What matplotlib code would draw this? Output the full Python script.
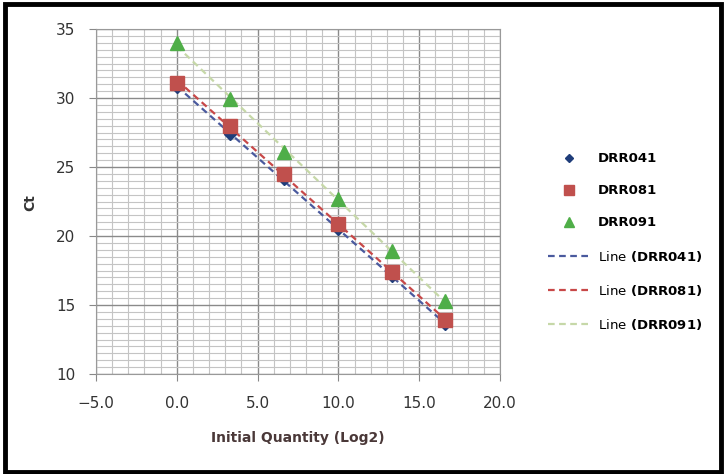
import matplotlib
matplotlib.use("Agg")
import matplotlib.pyplot as plt
import numpy as np
from matplotlib.patches import Rectangle
from matplotlib.ticker import MultipleLocator, FuncFormatter

# Data
x_vals = [0.0, 3.32, 6.64, 9.97, 13.29, 16.61]
drr041 = [30.8, 27.4, 24.1, 20.5, 17.1, 13.6]
drr081 = [31.1, 28.0, 24.5, 20.9, 17.4, 13.9]
drr091 = [34.0, 29.9, 26.1, 22.7, 18.9, 15.3]
series_names = ["DRR041", "DRR081", "DRR091"]

marker_colors = ["#1f3d7a", "#c0504d", "#4fae48"]
line_colors = ["#4a5a9e", "#c84848", "#c6d8a8"]
markers = ["D", "s", "^"]
msizes = [6, 10, 9.5]

plt.rcParams['font.family'] = ['DejaVu Sans']

fig = plt.figure(figsize=(7.24, 4.74), dpi=100)
ax = fig.add_axes([96/724, 1-374/474, (500-96)/724, (374-29)/474])

x = np.array(x_vals)
handles_m = []
handles_l = []
for ys, name, mc, lc, mk, ms in zip([drr041, drr081, drr091], series_names,
                                      marker_colors, line_colors, markers, msizes):
    y = np.array(ys)
    h, = ax.plot(x, y, linestyle='none', marker=mk, color=mc, markersize=ms, zorder=4)
    handles_m.append(h)
    k, b = np.polyfit(x, y, 1)
    xl = np.array([x.min(), x.max()])
    l, = ax.plot(xl, k*xl + b, linestyle=(0, (3, 2)), color=lc, lw=1.6, zorder=3)
    handles_l.append(l)

ax.set_xlim(-5, 20)
ax.set_ylim(10, 35)
ax.xaxis.set_major_locator(MultipleLocator(5))
ax.xaxis.set_minor_locator(MultipleLocator(1))
ax.yaxis.set_major_locator(MultipleLocator(5))
ax.yaxis.set_minor_locator(MultipleLocator(0.5))
ax.xaxis.set_major_formatter(FuncFormatter(lambda v, p: f"{v:.1f}".replace('-', '\u2212')))
ax.grid(which='major', color='#8a8a8a', lw=1.0)
ax.grid(which='minor', color='#c4c4c4', lw=0.8)
ax.set_axisbelow(True)
for s in ax.spines.values():
    s.set_color('#999999')
ax.tick_params(which='major', length=5, color='#888888', labelsize=11, labelcolor='#333333')
ax.tick_params(which='minor', length=0)
ax.tick_params(axis='x', pad=11)
ax.tick_params(axis='y', pad=10)

ax.set_xlabel('Initial Quantity (Log2)', fontsize=10, fontweight='bold', color='#4a3838', labelpad=14)
fig.text(30/724, 1-203/474, 'Ct', rotation=90, fontsize=10, fontweight='bold',
         color='#333333', ha='center', va='center')

labels = series_names + [r"$\mathsf{Line}$ (" + n + ")" for n in series_names]
leg = fig.legend(handles_m + handles_l, labels, loc='center left',
                 bbox_to_anchor=(536/724, 1-242/474), frameon=False,
                 prop={'weight': 'bold', 'size': 9.5}, labelspacing=1.45,
                 handlelength=3.2, handletextpad=0.6, markerscale=0.75)

fig.patches.append(Rectangle((5/724, 2/474), 716/724, 468/474, transform=fig.transFigure,
                             fill=False, edgecolor='black', lw=3.5))

fig.savefig('out.png', dpi=100)
